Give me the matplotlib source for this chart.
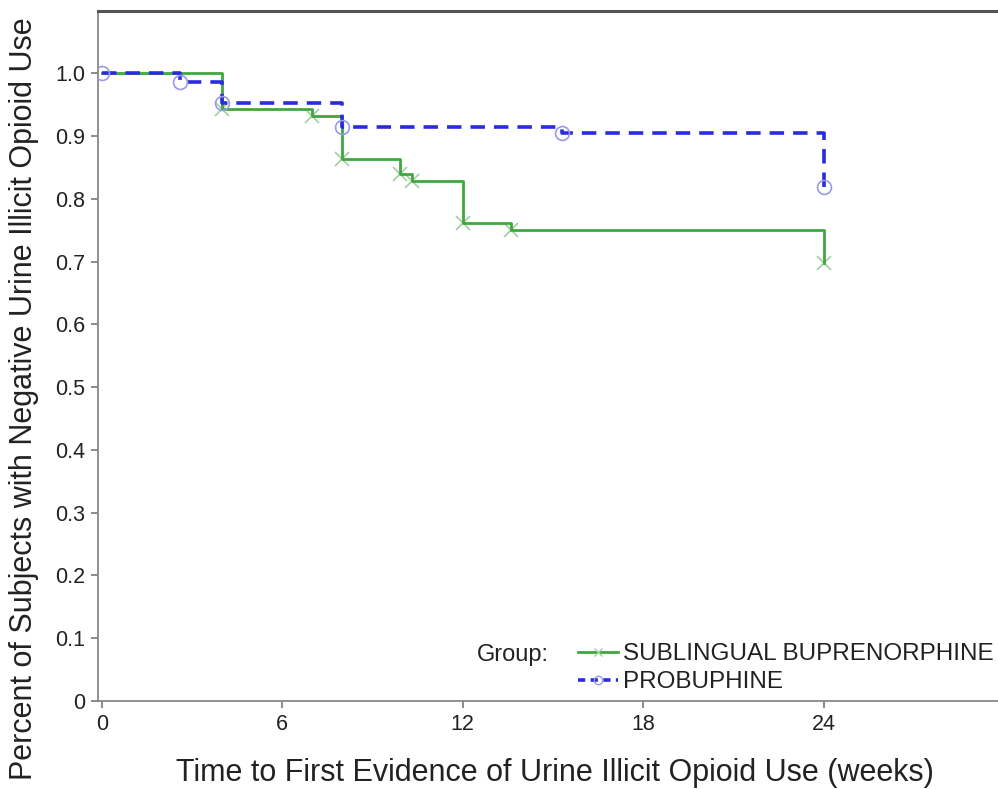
import matplotlib
matplotlib.use("Agg")
import matplotlib.pyplot as plt
from matplotlib.lines import Line2D

plt.rcParams["font.family"] = ["Liberation Sans", "DejaVu Sans"]

# ---------- Kaplan-Meier estimates (weeks, survival) ----------
sub_weeks = [0.0, 4.0, 7.0, 8.0, 9.9, 10.3, 12.0, 13.6, 24.0]
sub_surv = [1.0, 0.943, 0.932, 0.863, 0.840, 0.829, 0.761, 0.750, 0.698]

pro_weeks = [0.0, 2.6, 4.0, 8.0, 15.3, 24.0]
pro_surv = [1.0, 0.986, 0.952, 0.915, 0.904, 0.819]

group_names = ["SUBLINGUAL BUPRENORPHINE", "PROBUPHINE"]
x_ticks = [0, 6, 12, 18, 24]
y_ticks = [0, 0.1, 0.2, 0.3, 0.4, 0.5, 0.6, 0.7, 0.8, 0.9, 1.0]
y_tick_labels = ["0", "0.1", "0.2", "0.3", "0.4", "0.5", "0.6", "0.7", "0.8", "0.9", "1.0"]

GREEN = "#3fa83f"
GREEN_MK = "#9fcf9f"
BLUE = "#2a2ae0"
BLUE_MK = "#9a9ae8"

fig = plt.figure(figsize=(9.98, 7.89), dpi=100)
ax = fig.add_axes([98 / 998, 1 - 701 / 789, 1 - 98 / 998, (701 - 11) / 789])

# step curves
ax.step(sub_weeks, sub_surv, where="post", color=GREEN, lw=2.0, zorder=3)
ax.step(pro_weeks, pro_surv, where="post", color=BLUE, lw=2.6,
        linestyle=(0, (4, 2.5)), zorder=4)

# markers at each step
ax.plot(sub_weeks[1:], sub_surv[1:], linestyle="none", marker="x",
        markersize=10, markeredgewidth=1.2, color=GREEN_MK, zorder=2)
ax.plot(pro_weeks, pro_surv, linestyle="none", marker="o", markersize=10,
        markerfacecolor="none", markeredgewidth=1.2, color=BLUE_MK, zorder=5)

ax.set_xlim(-0.13, 29.8)
ax.set_ylim(0, 1.099)
ax.set_xticks(x_ticks)
ax.set_xticklabels([str(t) for t in x_ticks])
ax.set_yticks(y_ticks)
ax.set_yticklabels(y_tick_labels)
ax.tick_params(axis="both", labelsize=15.5, colors="#777777", labelcolor="#222222",
               length=5, width=1.2, direction="out", pad=4)

for side in ["left", "bottom"]:
    ax.spines[side].set_color("#888888")
    ax.spines[side].set_linewidth(1.3)
ax.spines["top"].set_color("#555555")
ax.spines["top"].set_linewidth(2.2)
ax.spines["right"].set_visible(False)

ax.set_xlabel("Time to First Evidence of Urine Illicit Opioid Use (weeks)",
              fontsize=22, color="#222222")
ax.set_ylabel("Percent of Subjects with Negative Urine Illicit Opioid Use",
              fontsize=22, color="#222222")
ax.xaxis.set_label_coords(0.508, -0.083)
ax.yaxis.set_label_coords(-0.065, 0.438)

# legend
handles = [
    Line2D([], [], color=GREEN, lw=2.0, marker="x", markersize=6,
           markeredgecolor=GREEN_MK),
    Line2D([], [], color=BLUE, lw=2.6, linestyle=(0, (2, 1.5)), marker="o",
           markersize=6, markerfacecolor="none", markeredgecolor=BLUE_MK),
]
leg = fig.legend(handles, group_names, loc="upper left",
                 bbox_to_anchor=(578 / 998, 1 - 643 / 789), frameon=False,
                 fontsize=17.5, handlelength=1.65, handletextpad=0.2,
                 labelspacing=0.25, borderpad=0, borderaxespad=0)
for t in leg.get_texts():
    t.set_color("#222222")
fig.text(477 / 998, 1 - 655 / 789, "Group:", fontsize=17, color="#222222",
         ha="left", va="center")

fig.savefig("out.png", dpi=100)
plt.close(fig)
